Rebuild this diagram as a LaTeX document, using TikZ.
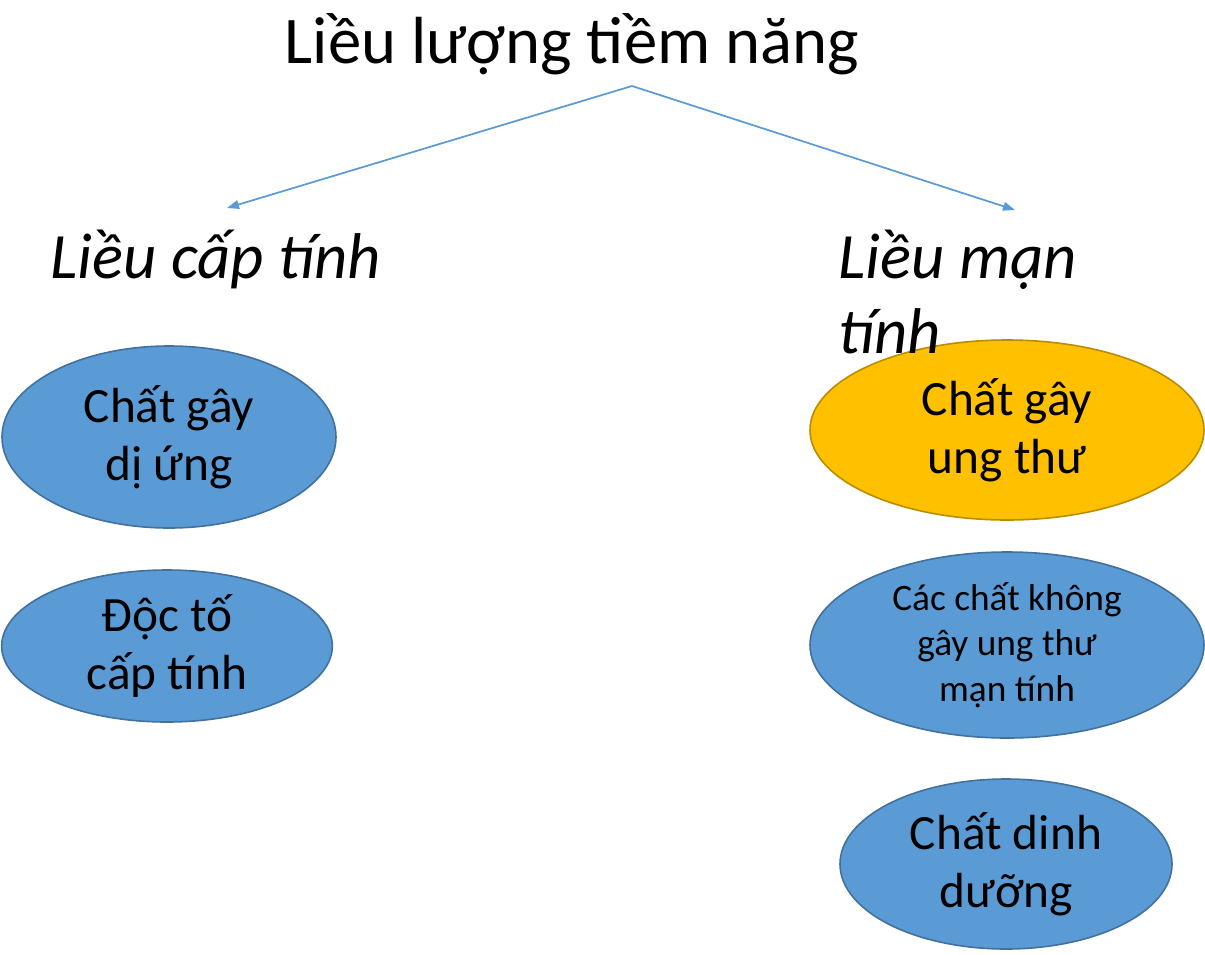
\documentclass[tikz,border=0pt]{standalone}
\usepackage{fontspec}
\setmainfont{Carlito}
\usetikzlibrary{shapes.geometric,arrows.meta}
\definecolor{bluefill}{HTML}{5B9BD5}
\definecolor{blueline}{HTML}{41719C}
\definecolor{goldfill}{HTML}{FFC000}
\definecolor{goldline}{HTML}{BC8C00}
\begin{document}
\begin{tikzpicture}[x=0.75pt,y=-0.75pt,
  oval/.style={ellipse,draw=blueline,fill=bluefill,line width=1.2pt,inner sep=0pt,align=center},
  bigtxt/.style={font=\fontsize{37}{43.5}\selectfont},
  smalltxt/.style={font=\fontsize{28}{34}\selectfont},
  subhead/.style={font=\fontsize{48.5}{56}\selectfont\itshape,inner sep=0pt,anchor=base west,align=left},
  link/.style={draw=bluefill,line width=1.3pt,-{Triangle[length=9pt,width=6.5pt]}}]
\useasboundingbox (0,0) rectangle (1205,954);
\node[font=\fontsize{50}{60}\selectfont,inner sep=0pt,anchor=base] (title) at (572,63) {Liều lượng tiềm năng};
\node[subhead] (acute) at (50,278) {Liều cấp tính};
\coordinate (apex) at (632,86);
\coordinate (leftend) at (227,208);
\coordinate (rightend) at (1015,210);
\draw[link] (apex) -- (leftend);
\draw[link] (apex) -- (rightend);
\node[oval,bigtxt,minimum width=250.5pt,minimum height=136.5pt] (allergen) at (169,437) {Chất gây\\dị ứng};
\node[oval,bigtxt,minimum width=248pt,minimum height=114pt] (toxin) at (167,646) {Độc tố\\cấp tính};
\node[oval,bigtxt,draw=goldline,fill=goldfill,minimum width=295.5pt,minimum height=135pt] (carcin) at (1007,430) {Chất gây\\ung thư};
\node[oval,smalltxt,minimum width=295.5pt,minimum height=139.5pt] (noncarcin) at (1007,645) {Các chất không\\gây ung thư\\mạn tính};
\node[oval,bigtxt,minimum width=249pt,minimum height=127.5pt] (nutrient) at (1006,864) {Chất dinh\\dưỡng};
\node[subhead] (chronic) at (838,353) {Liều mạn\\tính};
\end{tikzpicture}
\end{document}
